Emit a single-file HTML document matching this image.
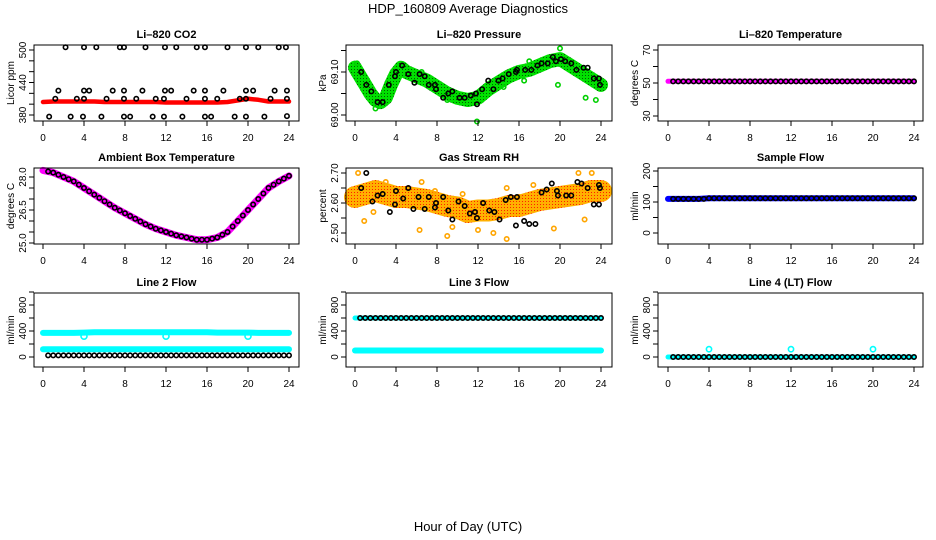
<!DOCTYPE html>
<html><head><meta charset="utf-8"><style>
body{margin:0;background:#fff;}
svg{display:block;font-family:"Liberation Sans",Arial,sans-serif;}
</style></head><body>
<svg id="c" width="936" height="540" viewBox="0 0 936 540">
<defs>
<pattern id="gpat" width="3" height="3" patternUnits="userSpaceOnUse"><rect width="3" height="3" fill="#00e000"/><rect width="1" height="1" fill="#006000"/></pattern>
<pattern id="opat" width="3" height="3" patternUnits="userSpaceOnUse"><rect width="3" height="3" fill="#ffb000"/><rect width="1" height="1" fill="#ff2000"/></pattern>
</defs>
<text x="468" y="13" text-anchor="middle" font-size="13">HDP_160809  Average Diagnostics</text>
<text x="468" y="531" text-anchor="middle" font-size="13">Hour of Day (UTC)</text>
</svg>
<script>
// ---- data ----
const xTicks=[0,4,8,12,16,20,24];
const co2Hours=[0,1,2,3,4,5,6,7,8,9,10,11,12,13,14,15,16,17,18,19,20,21,22,23,24];
const co2Red=[404,405,405,405,405,405,404,404,404,404,404,404,403,403,403,403,403,403,404,407,410,408,405,405,405];
const co2BlackH=[2.2,4,5.2,7.5,7.9,10,11.9,13,15,15.8,18,19.8,21,23,23.7,1.5,4,4.5,6.8,7.9,9.7,11.9,12.5,14.7,15.8,17.6,19.8,20.5,22.6,23.8,1.2,3.3,4,6.2,7.9,9.1,11,11.8,14,15.8,17,19.2,19.8,22.2,23.8,0.6,2.7,3.9,5.7,7.9,8.5,10.7,11.8,13.6,15.8,16.4,18.7,19.8,21.6,23.8];
const co2BlackV=[505,505,505,505,505,505,505,505,505,505,505,505,505,505,505,425,425,425,425,425,425,425,425,425,425,425,425,425,425,425,410,410,410,410,410,410,410,410,410,410,410,410,410,410,410,377,377,377,377,377,377,377,377,377,377,377,377,377,377,378];
const presHours=[0,0.5,1,1.5,2,2.5,3,3.5,4,4.5,5,6,7,8,9,10,11,12,13,14,15,16,17,18,19,20,21,22,23,24];
const presBand=[69.11,69.09,69.07,69.05,69.035,69.03,69.04,69.07,69.095,69.11,69.10,69.09,69.08,69.065,69.05,69.04,69.035,69.04,69.06,69.075,69.09,69.10,69.105,69.115,69.125,69.13,69.115,69.10,69.085,69.07];
const presBlackH=[0.6,1.1,1.6,2.2,2.7,3.3,3.9,4,4.6,5.2,5.8,6.3,6.8,7.2,7.8,7.9,8.6,9.1,9.5,10.2,10.7,11.3,11.8,11.9,12.4,13,13.5,14,14.4,15,15.7,15.8,16.6,17.2,17.8,18.2,18.8,19.3,19.6,20.1,20.5,21.1,21.6,22.3,22.7,23.3,23.8,23.9];
const presBlackV=[69.10,69.07,69.055,69.03,69.03,69.07,69.09,69.10,69.115,69.095,69.075,69.095,69.09,69.07,69.07,69.06,69.04,69.05,69.055,69.04,69.04,69.045,69.05,69.025,69.06,69.08,69.06,69.08,69.085,69.095,69.10,69.105,69.105,69.105,69.115,69.12,69.12,69.135,69.125,69.13,69.125,69.12,69.105,69.11,69.11,69.085,69.085,69.07];
const presGreenH=[11.9,19.8,22.5,23.5,20,2,6.5,14.5,16.5,0.2,9,17];
const presGreenV=[68.985,69.07,69.04,69.035,69.155,69.015,69.10,69.065,69.08,69.12,69.035,69.125];
const tempHours=[0,0.5,1,1.5,2,2.5,3,3.5,4,4.5,5,5.5,6,6.5,7,7.5,8,8.5,9,9.5,10,10.5,11,11.5,12,12.5,13,13.5,14,14.5,15,15.5,16,16.5,17,17.5,18,18.5,19,19.5,20,20.5,21,21.5,22,22.5,23,23.5,24];
const tempVals=[51,51,51,51,51,51,51,51,51,51,51,51,51,51,51,51,51,51,51,51,51,51,51,51,51,51,51,51,51,51,51,51,51,51,51,51,51,51,51,51,51,51,51,51,51,51,51,51,51];
const ambHours=[0,1,2,3,4,5,6,7,8,9,10,11,12,13,14,15,16,17,18,19,20,21,22,23,24];
const ambVals=[28.3,28.2,28.0,27.8,27.5,27.2,26.9,26.6,26.35,26.1,25.85,25.65,25.5,25.35,25.25,25.15,25.15,25.25,25.5,26.0,26.5,27.0,27.5,27.8,28.05];
const rhHours=[0,1,2,3,4,5,6,7,8,9,10,11,12,13,14,15,16,17,18,19,20,21,22,23,24];
const rhBand=[2.62,2.63,2.64,2.63,2.62,2.62,2.615,2.61,2.60,2.59,2.585,2.57,2.575,2.575,2.58,2.59,2.59,2.60,2.61,2.615,2.62,2.625,2.63,2.64,2.64];
const rhBlackH=[0.6,1.1,1.7,2.2,2.7,3.4,3.9,4,4.7,5.2,5.7,6.2,6.8,7.2,7.8,7.9,8.6,9.1,9.5,10.1,10.7,11.2,11.7,11.9,12.5,13.1,13.6,14.1,14.7,15.2,15.8,15.7,16.5,17,17.6,18.2,18.7,19.2,19.7,19.8,20.6,21.1,21.7,22.1,22.7,23.3,23.8,23.8,23.9];
const rhBlackV=[2.65,2.70,2.605,2.625,2.63,2.57,2.595,2.64,2.615,2.65,2.58,2.62,2.58,2.62,2.585,2.60,2.62,2.575,2.545,2.605,2.59,2.565,2.57,2.55,2.60,2.575,2.57,2.545,2.61,2.62,2.62,2.525,2.54,2.53,2.53,2.635,2.645,2.665,2.64,2.625,2.625,2.625,2.67,2.665,2.65,2.595,2.66,2.595,2.65];
const rhOrangeH=[0.3,0.9,1.8,6.3,6.5,7.8,9,9.5,12,13.5,14.8,14.8,17.4,19.4,21.8,22.4,23.1,3,10.5,16];
const rhOrangeV=[2.70,2.54,2.57,2.51,2.67,2.64,2.49,2.52,2.51,2.50,2.48,2.65,2.66,2.515,2.70,2.545,2.70,2.67,2.63,2.62];
const sfVals=[110,110,110,110,112,112,112,112,112,112,112,112,112,112,112,112,112,112,112,112,112,112,112,112,112];
const l2High=[370,370,370,370,375,380,380,380,380,380,380,380,380,380,380,380,380,375,375,375,375,370,370,370,370];
const l2Low=[120,120,120,120,120,120,120,120,120,120,120,120,120,120,120,120,120,120,120,120,120,120,120,120,120];
const l2Black=[25,25,25,25,25,25,25,25,25,25,25,25,25,25,25,25,25,25,25,25,25,25,25,25,25];
const l2DipH=[4,12,20];
const l2DipV=[320,320,320];
const l3High=[600,600,600,600,600,600,600,600,600,600,600,600,600,600,600,600,600,600,600,600,600,600,600,600,600];
const l3Low=[100,100,100,100,100,100,100,100,100,100,100,100,100,100,100,100,100,100,100,100,100,100,100,100,100];
const l4Vals=[0,0,0,0,0,0,0,0,0,0,0,0,0,0,0,0,0,0,0,0,0,0,0,0,0];
const l4SpikeH=[4,12,20];
const l4SpikeV=[120,120,120];

// ---- layout ----
const NS="http://www.w3.org/2000/svg";
const svg=document.getElementById('c');
const colBox=[[34,299],[346,612],[658,923]];
const colX=[[43,289],[355,601],[668,914]];
const rowBox=[[45,121],[168,244],[293,367]];
function el(tag,attrs,parent){const e=document.createElementNS(NS,tag);for(const k in attrs)e.setAttribute(k,attrs[k]);(parent||svg).appendChild(e);return e;}
function panel(name,title,ylab,col,row,v0,p0,v1,p1,ticks,labels){
  const g=el('g',{});
  
  
  const [bl,br]=colBox[col],[bt,bb]=rowBox[row];
  const xs=h=>colX[col][0]+(colX[col][1]-colX[col][0])*h/24;
  const ys=v=>p0+(p1-p0)*(v-v0)/(v1-v0);
  const t=el('text',{x:(bl+br)/2,y:bt-7,'text-anchor':'middle','font-size':11,'font-weight':'bold'},g);t.textContent=title;
  
  
  const yl=el('text',{transform:`translate(${bl-20},${(bt+bb)/2}) rotate(-90)`,'text-anchor':'middle','font-size':10},g);yl.textContent=ylab;
  
  
  const plot=el('g',{},g);
  el('rect',{x:bl,y:bt,width:br-bl,height:bb-bt,fill:'none',stroke:'#000','stroke-width':1},g);
  xTicks.forEach(h=>{const x=xs(h);el('line',{x1:x,x2:x,y1:bb,y2:bb+5,stroke:'#000'},g);
    const tx=el('text',{x:x,y:bb+20,'text-anchor':'middle','font-size':10},g);tx.textContent=h;
    
    });
  ticks.forEach(v=>{const y=ys(v);el('line',{x1:bl,x2:bl-5,y1:y,y2:y,stroke:'#000'},g);});
  labels.forEach(v=>{const y=ys(v);const tx=el('text',{transform:`translate(${bl-8},${y}) rotate(-90)`,'text-anchor':'middle','font-size':10},g);tx.textContent=v;
    
    });
  return {plot,xs,ys};
}
function band(P,hs,vs,stroke,w,name){const d=hs.map((h,i)=>(i?'L':'M')+P.xs(h).toFixed(1)+','+P.ys(vs[i]).toFixed(1)).join(' ');
  const p=el('path',{d:d,fill:'none',stroke:stroke,'stroke-width':w,'stroke-linecap':'round','stroke-linejoin':'round'},P.plot);
  
  }
function pts(P,hs,vs,color,name,r){hs.forEach((h,i)=>{const c=el('circle',{cx:P.xs(h),cy:P.ys(vs[i]),r:r||2.2,fill:'none',stroke:color,'stroke-width':1.6},P.plot);
  
  });}
function halfPts(P,vs,color,name){const hs=[],v2=[];vs.forEach((v,i)=>{for(let k=0;k<2;k++){const h=co2Hours[i]+k*0.5;if(h>0.3&&h<=24){hs.push(h);v2.push(v);}}});pts(P,hs,v2,color,name);}

// 1 CO2
let P=panel('co2','Li\u2013820 CO2','Licor ppm',0,0,380,115,500,50,[380,400,420,440,460,480,500],[380,440,500]);
band(P,co2Hours,co2Red,'#ff0000',4.5,'co2-red-series');
pts(P,co2BlackH,co2BlackV,'#000','co2-point');
// 2 Pressure
P=panel('pressure','Li\u2013820 Pressure','kPa',1,0,69.00,115,69.10,72,[69.00,69.05,69.10,69.15],['69.00','69.10']);
band(P,presHours,presBand,'url(#gpat)',14,'pressure-green-band');
pts(P,presGreenH,presGreenV,'#00d000','pressure-green-point');
pts(P,presBlackH,presBlackV,'#000','pressure-point');
// 3 Temperature
P=panel('licor-temp','Li\u2013820 Temperature','degrees C',2,0,30,116,70,50,[30,40,50,60,70],[30,50,70]);
band(P,tempHours,tempVals,'#ff00ff',5,'licor-temp-series');
pts(P,tempHours.slice(1),tempVals.slice(1),'#000','licor-temp-point',2.2);
// 4 Ambient
P=panel('ambient','Ambient Box Temperature','degrees C',0,1,25.0,243,28.0,177,[25.0,25.5,26.0,26.5,27.0,27.5,28.0],['25.0','26.5','28.0']);
band(P,ambHours,ambVals,'#ff00ff',7,'ambient-series');
const ambH2=[],ambV2=[];ambHours.forEach((h,i)=>{if(i<24){for(let k=1;k<=2;k++){ambH2.push(h+k*0.5);ambV2.push(ambVals[i]+(ambVals[i+1]-ambVals[i])*k/2);}}});
pts(P,ambH2,ambV2,'#000','ambient-point',2.2);
// 5 RH
P=panel('rh','Gas Stream RH','percent',1,1,2.50,233,2.70,173,[2.50,2.55,2.60,2.65,2.70],['2.50','2.60','2.70']);
band(P,rhHours,rhBand,'url(#opat)',22,'rh-orange-band');
pts(P,rhOrangeH,rhOrangeV,'#ffa500','rh-orange-point');
pts(P,rhBlackH,rhBlackV,'#000','rh-point');
// 6 Sample flow
P=panel('sample-flow','Sample Flow','ml/min',2,1,0,233,200,171,[0,50,100,150,200],[0,100,200]);
band(P,co2Hours,sfVals,'#0000ff',6,'sample-flow-series');
halfPts(P,sfVals,'#000','sample-flow-point');
// 7 Line 2
P=panel('line2','Line 2 Flow','ml/min',0,2,0,357,800,305,[0,200,400,600,800,1000],[0,400,800]);
band(P,co2Hours,l2High,'#00ffff',6,'line2-high-series');
band(P,co2Hours,l2Low,'#00ffff',6,'line2-low-series');
pts(P,l2DipH,l2DipV,'#00ffff','line2-dip-point',3);
halfPts(P,l2Black,'#000','line2-point');
// 8 Line 3
P=panel('line3','Line 3 Flow','ml/min',1,2,0,357,800,305,[0,200,400,600,800,1000],[0,400,800]);
band(P,co2Hours,l3High,'#00ffff',5,'line3-high-series');
band(P,co2Hours,l3Low,'#00ffff',6,'line3-low-series');
halfPts(P,l3High,'#000','line3-point');
// 9 Line 4
P=panel('line4','Line 4 (LT) Flow','ml/min',2,2,0,357,800,305,[0,200,400,600,800,1000],[0,400,800]);
band(P,co2Hours,l4Vals,'#00ffff',5,'line4-series');
pts(P,l4SpikeH,l4SpikeV,'#00ffff','line4-spike-point',2.6);
halfPts(P,l4Vals,'#000','line4-point');
</script>
</body></html>
